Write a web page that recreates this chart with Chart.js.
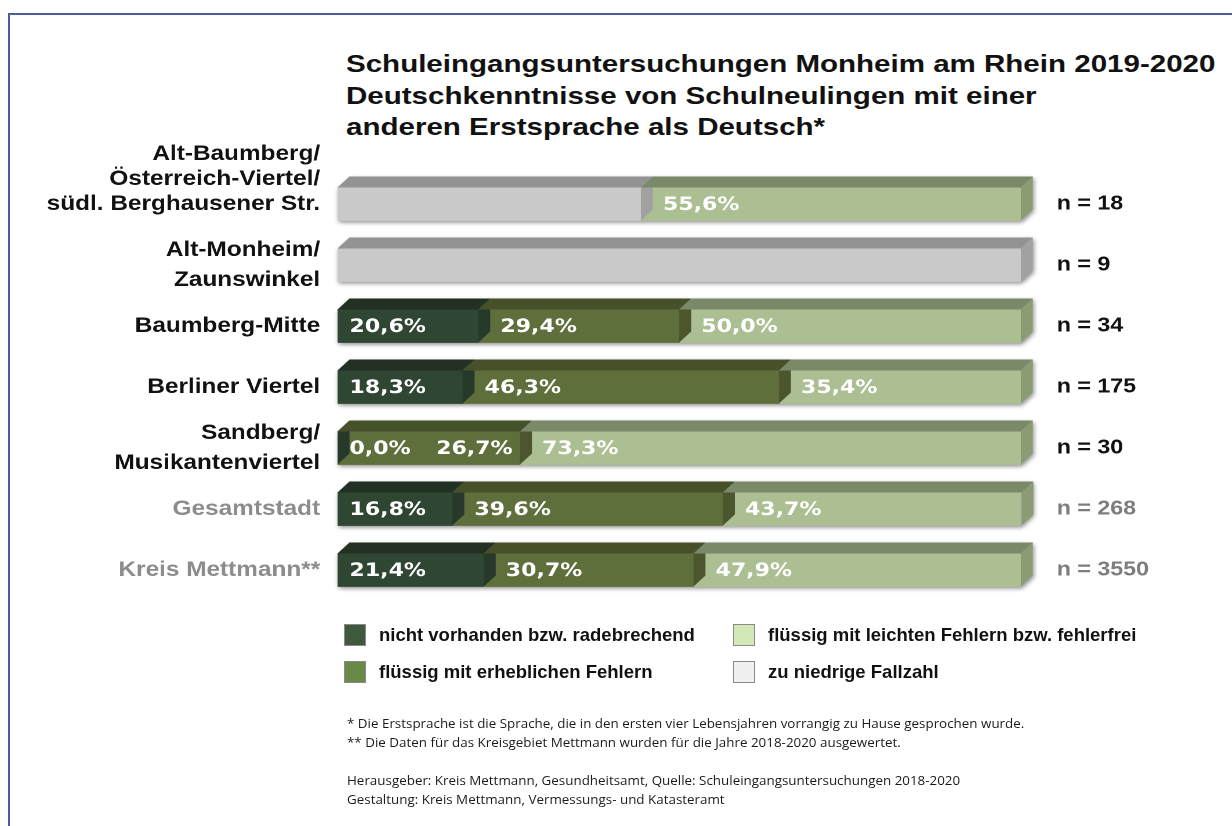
<!DOCTYPE html>
<html lang="de">
<head>
<meta charset="utf-8">
<title>Schuleingangsuntersuchungen Monheim am Rhein 2019-2020</title>
<script src="https://cdn.jsdelivr.net/npm/chart.js@4.4.1/dist/chart.umd.min.js"></script>
<style>
  html, body { margin: 0; padding: 0; background: #fff; }
  body { width: 1232px; height: 826px; position: relative; overflow: hidden; font-family: 'Liberation Sans', Arial, sans-serif; }
  #frame { position: absolute; left: 8px; top: 13px; width: 1300px; height: 900px; border: 2px solid #4a5f98; box-sizing: border-box; }
  #title { position: absolute; left: 346px; top: 48px; font-weight: bold; font-size: 24px; line-height: 31.7px; color: #111; white-space: nowrap; transform-origin: 0 0; transform: scaleX(1.23); }
  #chartBox { position: absolute; left: 0; top: 0; width: 1062px; height: 826px; transform-origin: 0 0; transform: scaleX(1.16); }
  .sw { position: absolute; width: 22px; height: 22px; box-sizing: border-box; border: 1px solid #8a8a8a; }
  .lt { position: absolute; font-weight: bold; font-size: 18.5px; line-height: 22px; color: #111; white-space: nowrap; }
  .notes { position: absolute; left: 347px; font-family: 'Open Sans', sans-serif; font-size: 11.8px; line-height: 19.3px; color: #1a1a1a; white-space: nowrap; transform-origin: 0 0; transform: scaleX(1.135); }
</style>
</head>
<body>
<div id="frame"></div>
<div id="title">Schuleingangsuntersuchungen Monheim am Rhein 2019-2020<br>Deutschkenntnisse von Schulneulingen mit einer<br>anderen Erstsprache als Deutsch*</div>
<div id="chartBox"><canvas id="myChart"></canvas></div>
<div id="legend"></div>
<div class="notes" style="top:714px">* Die Erstsprache ist die Sprache, die in den ersten vier Lebensjahren vorrangig zu Hause gesprochen wurde.<br>** Die Daten für das Kreisgebiet Mettmann wurden für die Jahre 2018-2020 ausgewertet.</div>
<div class="notes" style="top:771px">Herausgeber: Kreis Mettmann, Gesundheitsamt, Quelle: Schuleingangsuntersuchungen 2018-2020<br>Gestaltung: Kreis Mettmann, Vermessungs- und Katasteramt</div>
<script>
// Data
const categories = [
    ['Alt-Baumberg/', 'Österreich-Viertel/', 'südl. Berghausener Str.'],
    ['Alt-Monheim/', 'Zaunswinkel'],
    'Baumberg-Mitte',
    'Berliner Viertel',
    ['Sandberg/', 'Musikantenviertel'],
    'Gesamtstadt',
    'Kreis Mettmann**'
];
const sampleSizes = [18, 9, 34, 175, 30, 268, 3550];
const seriesNames = [
    'zu niedrige Fallzahl',
    'nicht vorhanden bzw. radebrechend',
    'flüssig mit erheblichen Fehlern',
    'flüssig mit leichten Fehlern bzw. fehlerfrei'
];
const lowCount   = [44.4, 100, null, null, null, null, null];
const noneBroken = [null, null, 20.6, 18.3, 0.0, 16.8, 21.4];
const manyErrors = [null, null, 29.4, 46.3, 26.7, 39.6, 30.7];
const fewErrors  = [55.6, null, 50.0, 35.4, 73.3, 43.7, 47.9];

// Styles (front face, top face, side face, legend swatch)
const faceColors = [
    { front: '#c9c9c9', top: '#939393', side: '#a1a1a1', swatch: '#f0f0f0' },
    { front: '#2f4632', top: '#223124', side: '#27392a', swatch: '#3d5b3c' },
    { front: '#5f6f3b', top: '#465029', side: '#4b562f', swatch: '#6b8946' },
    { front: '#abbf92', top: '#7a8967', side: '#8b9c74', swatch: '#d2e8b8' }
];
const DEPTH_X = 10.3;
const DEPTH_Y = 11;
const GREY_ROWS_FROM = 5;

// Legend (HTML, 2 columns)
let legendBox = document.getElementById('legend');
let legendSpots = [
    { s: 1, x: 344, y: 624 },
    { s: 2, x: 344, y: 661 },
    { s: 3, x: 733, y: 624 },
    { s: 0, x: 733, y: 661 }
];
legendSpots.forEach((p) => {
    let sw = document.createElement('div');
    sw.className = 'sw';
    sw.style.left = p.x + 'px';
    sw.style.top = p.y + 'px';
    sw.style.background = faceColors[p.s].swatch;
    legendBox.appendChild(sw);
    let t = document.createElement('div');
    t.className = 'lt';
    t.style.left = (p.x + 35) + 'px';
    t.style.top = p.y + 'px';
    t.textContent = seriesNames[p.s];
    legendBox.appendChild(t);
});

function formatPct(v) {
    return v.toFixed(1).replace('.', ',') + '%';
}

function facePath(ctx, pts) {
    ctx.beginPath();
    ctx.moveTo(pts[0][0], pts[0][1]);
    for (let k = 1; k < pts.length; k++) ctx.lineTo(pts[k][0], pts[k][1]);
    ctx.closePath();
    ctx.fill();
}

// 3D look: shadow, top faces, side faces, value labels
const bar3d = {
    id: 'bar3d',
    beforeDatasetsDraw(chart) {
        let ctx = chart.ctx;
        let xs = chart.scales.x;
        let x0 = xs.getPixelForValue(0);
        let x1 = xs.getPixelForValue(100);
        let ys = chart.scales.y;
        ctx.save();
        ctx.shadowColor = 'rgba(0,0,0,0.45)';
        ctx.shadowBlur = 9;
        ctx.shadowOffsetX = 2;
        ctx.shadowOffsetY = 4;
        ctx.fillStyle = '#b5b5b5';
        categories.forEach((c, i) => {
            let yc = ys.getPixelForValue(i);
            let top = yc - 16.5, bottom = yc + 16.5;
            facePath(ctx, [[x0, bottom], [x0, top], [x0 + DEPTH_X, top - DEPTH_Y], [x1 + DEPTH_X, top - DEPTH_Y], [x1 + DEPTH_X, bottom - DEPTH_Y], [x1, bottom]]);
        });
        ctx.restore();
    },
    afterDatasetsDraw(chart) {
        let ctx = chart.ctx;
        let x0 = chart.scales.x.getPixelForValue(0);
        ctx.save();
        chart.data.datasets.forEach((ds, di) => {
            let meta = chart.getDatasetMeta(di);
            meta.data.forEach((bar, i) => {
                if (ds.data[i] == null) return;
                let p = bar.getProps(['x', 'y', 'base', 'height'], true);
                let top = p.y - p.height / 2, bottom = p.y + p.height / 2;
                ctx.fillStyle = faceColors[di].top;
                facePath(ctx, [[p.base, top], [p.base + DEPTH_X, top - DEPTH_Y], [p.x + DEPTH_X, top - DEPTH_Y], [p.x, top]]);
                ctx.fillStyle = faceColors[di].side;
                facePath(ctx, [[p.x, top], [p.x + DEPTH_X, top - DEPTH_Y], [p.x + DEPTH_X, bottom - DEPTH_Y], [p.x, bottom]]);
            });
        });
        // value labels
        ctx.font = 'bold 19px "DejaVu Sans", Verdana, sans-serif';
        ctx.textBaseline = 'middle';
        ctx.textAlign = 'left';
        ctx.fillStyle = '#ffffff';
        categories.forEach((c, i) => {
            let lastEnd = -Infinity;
            for (let di = 1; di < chart.data.datasets.length; di++) {
                let v = chart.data.datasets[di].data[i];
                if (v == null) continue;
                let p = chart.getDatasetMeta(di).data[i].getProps(['y', 'base'], true);
                let txt = formatPct(v);
                let tx = p.base + (p.base - x0 < 1 ? 10.3 : 19);
                tx = Math.max(tx, lastEnd + 22);
                ctx.fillText(txt, tx, p.y + 1);
                lastEnd = tx + ctx.measureText(txt).width;
            }
        });
        ctx.restore();
    }
};

const dataSeries = [lowCount, noneBroken, manyErrors, fewErrors];

let ctx = document.getElementById('myChart').getContext('2d');
let chart = new Chart(ctx, {
    type: 'bar',
    data: {
        labels: categories,
        datasets: dataSeries.map((arr, k) => ({
            label: seriesNames[k],
            data: arr,
            backgroundColor: faceColors[k].front,
            borderWidth: 0,
            barThickness: 33
        }))
    },
    options: {
        indexAxis: 'y',
        responsive: true,
        maintainAspectRatio: false,
        animation: false,
        devicePixelRatio: 2,
        layout: { padding: { top: 173.5, bottom: 225.5, left: 0, right: 0 } },
        plugins: { legend: { display: false }, tooltip: { enabled: false } },
        scales: {
            x: { stacked: true, min: 0, max: 100, display: false },
            y: {
                stacked: true,
                grid: { display: false, drawTicks: false },
                border: { display: false },
                ticks: {
                    autoSkip: false,
                    padding: 15,
                    color: (c) => c.index >= GREY_ROWS_FROM ? '#8c8c8c' : '#111',
                    font: (c) => ({ family: "'Liberation Sans', Arial, sans-serif", weight: 'bold', size: 21, lineHeight: c.index === 0 ? '25px' : '30px' }),
                    callback: (value, index) => {
                        let lbl = categories[index];
                        return index === 0 ? lbl.concat(['', '']) : lbl;
                    }
                },
                afterFit: (s) => { s.width = 291; }
            },
            y2: {
                type: 'category',
                labels: sampleSizes.map((n) => 'n = ' + n),
                position: 'right',
                offset: true,
                grid: { display: false, drawTicks: false },
                border: { display: false },
                ticks: {
                    autoSkip: false,
                    padding: 31,
                    color: (c) => c.index >= GREY_ROWS_FROM ? '#7d7d7d' : '#111',
                    font: { family: "'Liberation Sans', Arial, sans-serif", weight: 'bold', size: 20 }
                },
                afterFit: (s) => { s.width = 182; }
            }
        }
    },
    plugins: [bar3d]
});
</script>
</body>
</html>
